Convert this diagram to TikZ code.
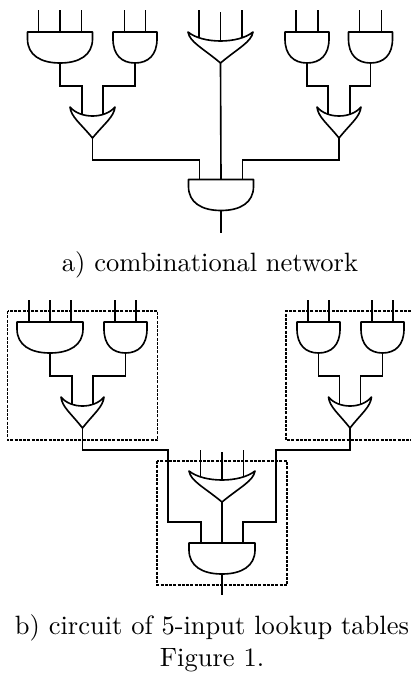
\documentclass[tikz,border=0pt]{standalone}
\usetikzlibrary{backgrounds}
\tikzset{
  wire/.style={line width=0.65pt},
  gate/.style={line width=0.65pt,fill=white,line join=round},
  lutbox/.style={line width=0.5pt,densely dashed,dash pattern=on 1.2pt off 0.5pt},
  caption/.style={inner sep=0pt,font=\fontsize{10.6}{13}\selectfont}
}
% name, x, y of top edge, half width, offset of inputs
\newcommand{\andgate}[5]{
  \coordinate (#1-a) at (#2-#5,#3);
  \coordinate (#1-b) at (#2,#3);
  \coordinate (#1-c) at (#2+#5,#3);
  \coordinate (#1-out) at (#2,#3+31);
  \draw[gate] (#2-#4,#3) -- (#2+#4,#3) -- (#2+#4,#3+7)
    .. controls (#2+#4,#3+23) and (#2+0.6*#4,#3+31) .. (#2,#3+31)
    .. controls (#2-0.6*#4,#3+31) and (#2-#4,#3+23) .. (#2-#4,#3+7) -- cycle;
}
\newcommand{\orgate}[5]{
  \coordinate (#1-a) at (#2-#5,#3+7);
  \coordinate (#1-b) at (#2,#3+9);
  \coordinate (#1-c) at (#2+#5,#3+7);
  \coordinate (#1-out) at (#2,#3+31);
  \draw[gate] (#2-#4,#3) .. controls (#2-0.55*#4,#3+12) and (#2+0.55*#4,#3+12) .. (#2+#4,#3)
    .. controls (#2+0.95*#4,#3+10) and (#2+0.55*#4,#3+16) .. (#2,#3+31)
    .. controls (#2-0.55*#4,#3+16) and (#2-0.95*#4,#3+10) .. (#2-#4,#3) -- cycle;
}
\begin{document}
\begin{tikzpicture}[x=0.4pt,y=-0.4pt]
\useasboundingbox (0,0) rectangle (411,673);
% a) combinational network
\andgate{aA}{60}{32}{32.5}{21.5}
\andgate{aB}{135}{32}{22}{10.5}
\orgate{aC}{92.5}{107}{22.5}{10.5}
\orgate{aD}{220.5}{32}{32.5}{21.5}
\andgate{aE}{307}{32}{22}{11}
\andgate{aF}{370.5}{32}{22}{11}
\orgate{aG}{339}{107}{22}{11}
\andgate{aH}{221}{179.5}{32.5}{21.5}
\coordinate (aEnd) at (221,233);
\begin{scope}[on background layer]
\foreach \p in {a,b,c} {
  \draw[wire] (aA-\p) -- ++(0,-22);
  \draw[wire] (aD-\p) -- ++(0,-29);
}
\foreach \g in {aB,aE,aF} {
  \draw[wire] (\g-a) -- ++(0,-22);
  \draw[wire] (\g-c) -- ++(0,-22);
}
\draw[wire] (aA-out) -- ++(0,23) -| (aC-a);
\draw[wire] (aB-out) -- ++(0,23) -| (aC-c);
\draw[wire] (aE-out) -- ++(0,23) -| (aG-a);
\draw[wire] (aF-out) -- ++(0,23) -| (aG-c);
\draw[wire] (aC-out) -- ++(0,22) -| (aH-a);
\draw[wire] (aG-out) -- ++(0,22) -| (aH-c);
\draw[wire] (aD-out) -- (aH-b);
\draw[wire] (aH-out) -- (aEnd);
\end{scope}
\node[caption] (capA) at (210,265) {a) combinational network};
% b) circuit of 5-input lookup tables
\andgate{bA}{50}{322}{33}{21}
\andgate{bB}{125.5}{322}{21.5}{10.5}
\orgate{bC}{82.5}{397}{21.5}{10.5}
\andgate{bE}{318.5}{322}{21.5}{10.5}
\andgate{bF}{382.5}{322}{21.5}{10.5}
\orgate{bG}{350}{397}{21.5}{10.5}
\orgate{bD}{222}{471}{33}{21.5}
\andgate{bH}{222}{543}{33}{21}
\coordinate (bEnd) at (222,595);
\coordinate (bendL) at (168,522);
\coordinate (bendR) at (276,522);
\coordinate (boxA) at (7.5,311);
\coordinate (boxB) at (157.5,440);
\coordinate (boxC) at (157,461);
\coordinate (boxD) at (287,585);
\coordinate (boxE) at (411,311);
\coordinate (boxF) at (286,311);
\coordinate (boxG) at (286,440);
\coordinate (boxH) at (411,440);
\begin{scope}[on background layer]
\draw[lutbox] (boxA) rectangle (boxB);
\draw[lutbox] (boxC) rectangle (boxD);
\draw[lutbox] (boxE) -- (boxF) -- (boxG) -- (boxH);
\foreach \p in {a,b,c} {
  \draw[wire] (bA-\p) -- ++(0,-22);
  \draw[wire] (bD-\p) -- ++(0,-28);
}
\foreach \g in {bB,bE,bF} {
  \draw[wire] (\g-a) -- ++(0,-22);
  \draw[wire] (\g-c) -- ++(0,-22);
}
\draw[wire] (bA-out) -- ++(0,23) -| (bC-a);
\draw[wire] (bB-out) -- ++(0,23) -| (bC-c);
\draw[wire] (bE-out) -- ++(0,23) -| (bG-a);
\draw[wire] (bF-out) -- ++(0,23) -| (bG-c);
\draw[wire] (bC-out) -- ++(0,22) -| (bendL) -| (bH-a);
\draw[wire] (bG-out) -- ++(0,22) -| (bendR) -| (bH-c);
\draw[wire] (bD-out) -- (bH-b);
\draw[wire] (bH-out) -- (bEnd);
\end{scope}
\node[caption] (capB) at (212,628) {b) circuit of 5-input lookup tables};
\node[caption] (capC) at (212,660) {Figure 1.};
\end{tikzpicture}
\end{document}
